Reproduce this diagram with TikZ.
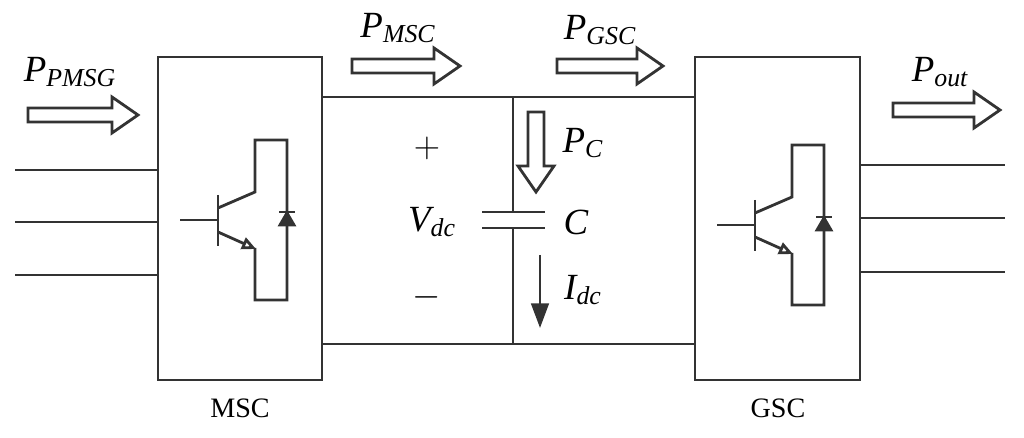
\documentclass[tikz,border=0pt]{standalone}
\usepackage{fontspec}
\setmainfont{Liberation Serif}
\usetikzlibrary{arrows.meta}
\newcommand{\hshaft}{7}
\newcommand{\hhead}{18}
% hollow power arrow: start x, y, length
\newcommand{\harrow}[3]{
	\draw [power](#1,#2-\hshaft) -- (#1+#3-26,#2-\hshaft) -- (#1+#3-26,#2-\hhead) -- (#1+#3,#2)
		-- (#1+#3-26,#2+\hhead) -- (#1+#3-26,#2+\hshaft) -- (#1,#2+\hshaft) -- cycle;
	}
% IGBT with antiparallel diode
\newcommand{\igbt}[2]{
	\begin{scope}[shift={(#1,#2)}]
	\draw [wire](180,220) -- (218,220);
	\draw [wire](218,195) -- (218,246);
	\draw [wire](218,208) -- (255,192) -- (255,140) -- (287,140) -- (287,300) -- (255,300) -- (255,248);
	\draw [wire,-{Triangle[open,length=8pt,width=7pt]}](218,232) -- (256,249);
	\draw [wire,fill=black!80](280,225) -- (294,225) -- (287,213) -- cycle;
	\draw [wire](279,212) -- (295,212);
	\end{scope}
	}
\begin{document}
\begin{tikzpicture}[
      x=0.02cm, y=-0.02cm,
      wire/.style={line width=1.6pt, black!80},
      power/.style={line width=1.6pt, black!80, fill=white},
      var/.style={font=\fontsize{21}{24}\selectfont\itshape},
      sign/.style={font=\fontsize{21}{24}\selectfont},
      conv/.style={font=\fontsize{16}{18}\selectfont}
    ]
    \useasboundingbox (0,0) rectangle (1024,438);
    % converter boxes
    \draw [wire](158,57) rectangle (322,380);
    \draw [wire](695,57) rectangle (860,380);
    \node[conv] (msc) at (240,408) {MSC};
    \node[conv] (gsc) at (778,408) {GSC};
    \igbt{0}{0};
    \igbt{537}{5};
    % three-phase lines
    \foreach \y in {170,222,275} \draw [wire](15,\y) -- (158,\y);
    \foreach \y in {165,218,272} \draw [wire](860,\y) -- (1005,\y);
    % dc link
    \draw [wire](322,97) -- (695,97);
    \draw [wire](322,344) -- (695,344);
    \draw [wire](513,97) -- (513,212);
    \draw [wire](513,228) -- (513,344);
    \draw [wire](482,212) -- (545,212);
    \draw [wire](482,228) -- (545,228);
    \node[sign] (plus) at (427,148) {$+$};
    \node[sign] (minus) at (427,297) {$-$};
    \node[var] (vdc) at (432,222) {V\textsubscript{dc}};
    \node[var] (cap) at (576,222) {C};
    % power flows
    \harrow{28}{115}{110};
    \node[var] (ppmsg) at (70,72) {P\textsubscript{PMSG}};
    \harrow{352}{66}{108};
    \node[var] (pmsc) at (398,28) {P\textsubscript{MSC}};
    \harrow{557}{66}{106};
    \node[var] (pgsc) at (600,30) {P\textsubscript{GSC}};
    \harrow{893}{110}{107};
    \node[var] (pout) at (940,72) {P\textsubscript{out}};
    \draw [power](528,112) -- (528,166) -- (518,166) -- (536,192) -- (554,166) -- (544,166) -- (544,112) -- cycle;
    \node[var] (pc) at (583,143) {P\textsubscript{C}};
    \draw [wire,-{Triangle[length=14pt,width=10pt]}](540,255) -- (540,328);
    \node[var] (idc) at (583,290) {I\textsubscript{dc}};
\end{tikzpicture}
\end{document}
